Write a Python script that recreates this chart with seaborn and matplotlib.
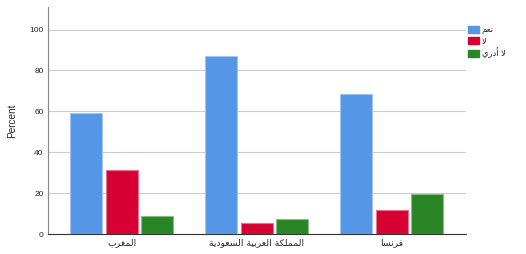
import matplotlib
matplotlib.use("Agg")
import matplotlib.pyplot as plt
import seaborn as sns
import pandas as pd
from matplotlib.colors import to_rgb
from matplotlib.patches import Patch

# ---- data ----
countries = ["المغرب", "المملكة العربية السعودية", "فرنسا"]
answers = ["نعم", "لا", "لا أدري"]
yes_vals = [59.2, 87.1, 68.5]
no_vals = [31.2, 5.5, 11.9]
dk_vals = [9.1, 7.3, 19.7]
yticks = [0, 20, 40, 60, 80, 100]
colors = ["#5596E6", "#D70032", "#2A8526"]

# ---- minimal Arabic shaping for display (matplotlib 3.10 has no shaping) ----
FORMS = {
    "ا": ("\uFE8D", "\uFE8E", None, None),
    "أ": ("\uFE83", "\uFE84", None, None),
    "ب": ("\uFE8F", "\uFE90", "\uFE91", "\uFE92"),
    "ة": ("\uFE93", "\uFE94", None, None),
    "د": ("\uFEA9", "\uFEAA", None, None),
    "ر": ("\uFEAD", "\uFEAE", None, None),
    "س": ("\uFEB1", "\uFEB2", "\uFEB3", "\uFEB4"),
    "ع": ("\uFEC9", "\uFECA", "\uFECB", "\uFECC"),
    "غ": ("\uFECD", "\uFECE", "\uFECF", "\uFED0"),
    "ف": ("\uFED1", "\uFED2", "\uFED3", "\uFED4"),
    "ك": ("\uFED9", "\uFEDA", "\uFEDB", "\uFEDC"),
    "ل": ("\uFEDD", "\uFEDE", "\uFEDF", "\uFEE0"),
    "م": ("\uFEE1", "\uFEE2", "\uFEE3", "\uFEE4"),
    "ن": ("\uFEE5", "\uFEE6", "\uFEE7", "\uFEE8"),
    "و": ("\uFEED", "\uFEEE", None, None),
    "ي": ("\uFEF1", "\uFEF2", "\uFEF3", "\uFEF4"),
}
LAMALEF = {"ا": ("\uFEFB", "\uFEFC"), "أ": ("\uFEF7", "\uFEF8")}


def dual(c):
    return c in FORMS and FORMS[c][2] is not None


def shape(text):
    out = []
    chars = list(text)
    i = 0
    while i < len(chars):
        c = chars[i]
        if c not in FORMS:
            out.append(c)
            i += 1
            continue
        prev = chars[i - 1] if i > 0 else None
        jp = prev is not None and dual(prev)
        if c == "ل" and i + 1 < len(chars) and chars[i + 1] in LAMALEF:
            iso, fin = LAMALEF[chars[i + 1]]
            out.append(fin if jp else iso)
            i += 2
            continue
        nxt = chars[i + 1] if i + 1 < len(chars) else None
        jn = dual(c) and nxt is not None and nxt in FORMS
        iso, fin, ini, med = FORMS[c]
        if jp and jn:
            out.append(med)
        elif jp:
            out.append(fin)
        elif jn:
            out.append(ini)
        else:
            out.append(iso)
        i += 1
    return "".join(out[::-1])


df = pd.DataFrame({
    "country": [c for c in countries for _ in answers],
    "answer": answers * len(countries),
    "percent": [v for trio in zip(yes_vals, no_vals, dk_vals) for v in trio],
})

sns.set_theme(style="white")
plt.rcParams["font.family"] = ["Liberation Sans", "DejaVu Sans"]

fig = plt.figure(figsize=(5.26, 2.54), dpi=100)
ax = fig.add_axes([0.0907, 0.0776, 0.7953, 0.8948])

sns.barplot(data=df, x="country", y="percent", hue="answer", order=countries,
            hue_order=answers, palette=colors, saturation=1, width=0.79,
            gap=0.1, errorbar=None, ax=ax, legend=False, zorder=3)

for p in ax.patches:
    fc = to_rgb(p.get_facecolor())
    p.set_edgecolor(tuple(0.55 * f + 0.45 for f in fc))
    p.set_linewidth(0.8)

ax.set_xlim(-0.55, 2.55)
ax.set_ylim(0, 111)
ax.set_yticks(yticks)
ax.set_yticklabels([str(t) for t in yticks], fontsize=6)
ax.set_xticks(range(len(countries)))
ax.set_xticklabels([shape(c) for c in countries], fontsize=6.7,
                   family=["DejaVu Sans"])
ax.tick_params(axis="both", length=0, pad=3)
ax.set_xlabel("")
ax.set_ylabel("Percent", fontsize=7.2, labelpad=9)
ax.yaxis.grid(True, color="#CCCCCC", linewidth=0.8, zorder=0)
ax.set_axisbelow(True)
for s in ["top", "right"]:
    ax.spines[s].set_visible(False)
ax.spines["left"].set_color("#888888")
ax.spines["left"].set_linewidth(0.8)
ax.spines["bottom"].set_color("#333333")
ax.spines["bottom"].set_linewidth(0.8)

handles = [Patch(facecolor=c, edgecolor=c) for c in colors]
fig.legend(handles, [shape(a) for a in answers], loc="upper left",
           bbox_to_anchor=(0.889, 0.9), frameon=False,
           prop={"family": ["DejaVu Sans"], "size": 6},
           handlelength=1.4, handleheight=0.9, handletextpad=0.3,
           labelspacing=0.25, borderaxespad=0, borderpad=0)

fig.savefig("out.png", dpi=100)
